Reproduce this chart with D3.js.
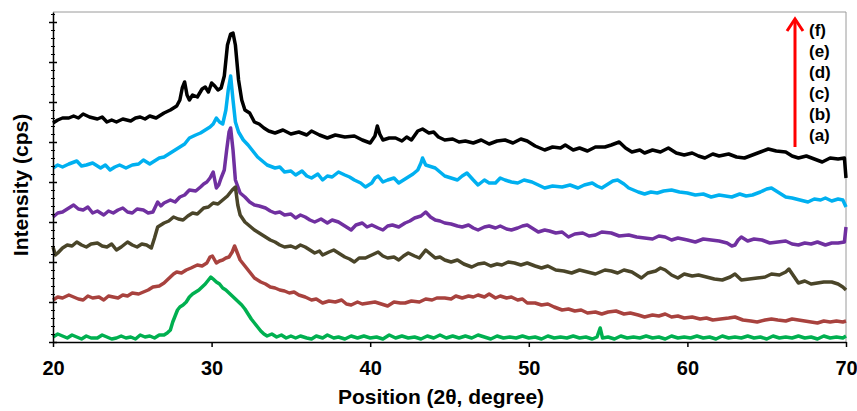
<!DOCTYPE html>
<html>
<head>
<meta charset="utf-8">
<script src="https://cdn.jsdelivr.net/npm/d3@7"></script>
<style>
  html, body { margin: 0; padding: 0; background: #fff; }
  svg { display: block; font-family: "Liberation Sans", Arial, sans-serif; }
</style>
</head>
<body>
<svg id="chart" width="857" height="411"></svg>
<script>
// ---------------- DATA (2θ in degrees, intensity in arbitrary stacked units) ----------------
const seriesLabels = ["(f)", "(e)", "(d)", "(c)", "(b)", "(a)"];
const seriesColors = ["#000000", "#00b0f0", "#7030a0", "#4a4529", "#a8423e", "#00b050"];
const xTicks = [20, 30, 40, 50, 60, 70];

const theta_f = [20.0,20.3,20.6,21.0,21.3,21.6,21.9,22.3,22.8,23.1,23.4,23.7,24.0,24.4,24.9,25.2,25.5,25.8,26.1,26.5,27.0,27.4,27.8,28.0,28.15,28.3,28.45,28.6,28.8,29.1,29.4,29.6,29.8,30.0,30.2,30.4,30.6,30.8,31.0,31.2,31.35,31.5,31.7,31.9,32.1,32.4,32.7,33.0,33.3,33.6,34.0,34.5,35.0,35.5,36.0,36.3,36.8,37.3,37.8,38.4,39.0,39.5,40.0,40.3,40.45,40.6,40.8,41.2,41.6,42.0,42.3,42.6,43.0,43.3,43.7,44.0,44.3,44.7,45.2,45.6,46.0,46.5,47.0,47.5,48.0,48.5,49.0,49.5,49.9,50.4,51.0,51.5,52.0,52.3,52.8,53.2,53.7,54.2,54.8,55.2,55.7,56.1,56.5,57.0,57.3,57.8,58.3,58.8,59.3,59.8,60.3,60.7,61.1,61.6,62.0,62.6,63.1,63.6,64.1,64.6,65.1,65.6,66.2,66.6,67.0,67.5,68.0,68.5,69.0,69.5,69.9,70.0];
const int_f = [219,222,224,224,226,224,228,225,223,225,220,222,220,223,221,224,225,223,226,224,229,232,236,242,254,260,247,242,247,245,253,255,250,259,256,252,254,266,297,308,309,297,262,242,232,229,220,218,214,211,209,212,208,210,207,211,207,204,207,205,206,202,199,206,216,208,202,204,204,201,205,202,211,213,209,210,205,202,203,200,201,199,202,198,201,202,199,203,201,196,192,195,194,197,192,194,191,195,195,197,200,194,190,192,189,192,190,194,189,187,189,186,184,188,186,188,185,184,187,190,193,191,190,186,184,186,183,180,184,183,184,164];

const theta_e = [20.0,20.3,20.6,21.0,21.5,21.8,22.1,22.5,23.0,23.3,23.6,23.9,24.2,24.6,25.0,25.4,25.7,26.1,26.4,26.7,27.0,27.4,27.7,28.0,28.3,28.6,29.0,29.3,29.6,29.9,30.1,30.3,30.5,30.7,30.9,31.05,31.2,31.35,31.5,31.7,32.0,32.3,32.6,32.9,33.2,33.5,34.0,34.3,34.6,35.0,35.3,35.7,36.0,36.3,36.7,37.0,37.3,37.6,38.0,38.4,38.7,39.0,39.4,39.7,40.1,40.3,40.5,40.8,41.1,41.5,41.8,42.1,42.4,42.7,43.0,43.2,43.3,43.5,43.7,44.1,44.4,44.7,45.1,45.5,45.8,46.1,46.5,46.8,47.2,47.5,47.9,48.2,48.5,48.9,49.3,49.7,50.2,50.6,51.0,51.5,52.1,52.6,53.1,53.5,54.0,54.3,54.6,55.0,55.3,55.6,56.0,56.3,56.6,56.9,57.3,57.7,58.1,58.5,59.0,59.5,60.0,60.5,61.0,61.5,62.0,62.4,62.8,63.3,63.7,64.1,64.6,65.0,65.3,65.6,66.0,66.2,66.6,67.1,67.6,68.0,68.4,68.7,69.1,69.5,69.8,70.0];
const int_e = [174,177,175,178,181,176,177,179,174,177,172,175,177,174,177,178,182,178,181,184,185,189,192,195,198,204,207,209,212,215,218,224,220,218,232,252,266,242,220,210,202,197,191,185,181,177,174,175,170,171,167,171,166,164,168,162,166,165,170,167,165,162,159,155,159,164,166,160,162,164,159,162,165,168,172,179,184,177,176,174,170,166,164,162,166,169,162,157,162,159,159,164,162,160,159,162,160,157,154,156,155,157,154,157,159,156,154,158,161,162,158,154,152,150,148,150,149,151,152,150,149,147,148,145,147,146,145,148,146,147,150,153,154,151,147,145,144,142,140,143,142,144,141,143,142,135];

const theta_d = [20.0,20.3,20.6,21.0,21.3,21.6,21.9,22.2,22.5,22.8,23.2,23.5,23.8,24.1,24.4,24.7,25.0,25.3,25.7,26.0,26.3,26.6,26.8,27.0,27.4,27.7,28.0,28.3,28.6,29.0,29.3,29.5,29.7,29.9,30.1,30.3,30.45,30.6,30.8,30.95,31.1,31.2,31.35,31.5,31.8,32.1,32.4,32.7,33.0,33.4,33.7,34.0,34.3,34.6,35.0,35.3,35.6,35.9,36.2,36.5,36.9,37.3,37.6,38.0,38.4,38.8,39.1,39.5,39.8,40.1,40.5,40.8,41.1,41.4,41.8,42.2,42.5,42.8,43.2,43.5,43.8,44.1,44.4,44.7,45.1,45.5,45.8,46.2,46.5,46.8,47.2,47.5,47.9,48.2,48.6,48.9,49.3,49.6,49.9,50.3,50.6,51.0,51.3,51.7,52.1,52.5,52.9,53.4,53.8,54.2,54.6,55.2,55.7,56.3,56.8,57.3,57.8,58.2,58.6,59.0,59.4,60.0,60.5,61.0,61.5,62.0,62.5,62.8,63.0,63.2,63.4,63.8,64.2,64.7,65.2,65.7,66.2,66.6,67.0,67.4,67.8,68.2,68.7,69.1,69.5,69.9,70.0];
const int_d = [125,129,130,134,137,133,132,135,129,131,127,131,129,132,134,130,129,133,132,129,130,140,136,139,142,140,145,147,152,151,155,158,160,164,170,154,157,164,172,192,210,214,192,162,149,145,140,137,136,134,131,129,130,127,128,124,127,125,122,120,123,119,122,120,116,112,117,119,115,117,114,112,116,117,115,119,121,124,126,130,125,122,121,119,118,116,115,117,114,112,115,116,114,116,113,112,114,116,117,113,110,112,111,109,110,105,108,109,106,107,110,109,106,107,105,104,103,106,105,102,104,102,100,103,102,101,99,96,97,102,105,101,103,102,99,100,101,98,97,99,98,100,97,99,99,100,115];

const theta_c = [20.0,20.15,20.3,20.6,20.9,21.2,21.5,21.8,22.1,22.4,22.8,23.1,23.4,23.7,24.0,24.3,24.7,25.0,25.3,25.6,25.9,26.2,26.4,26.6,27.0,27.3,27.6,27.9,28.2,28.5,28.8,29.1,29.5,29.8,30.1,30.4,30.7,31.0,31.3,31.5,31.65,31.8,32.1,32.4,32.7,33.0,33.4,33.7,34.0,34.3,34.6,35.0,35.3,35.6,35.9,36.2,36.5,36.8,37.0,37.4,37.7,38.0,38.4,38.7,39.0,39.3,39.7,40.1,40.5,40.8,41.1,41.5,41.8,42.1,42.4,42.8,43.1,43.5,43.8,44.1,44.4,44.7,45.1,45.5,45.9,46.4,46.8,47.2,47.6,48.0,48.3,48.7,49.1,49.5,49.9,50.4,50.8,51.2,51.7,52.2,52.7,53.2,53.7,54.2,54.8,55.2,55.6,56.0,56.5,57.1,57.5,58.0,58.3,58.6,59.0,59.4,59.8,60.3,60.7,61.2,61.7,62.2,62.7,63.0,63.4,63.9,64.4,64.9,65.3,65.8,66.2,66.4,66.7,67.0,67.4,67.8,68.2,68.6,69.1,69.5,69.8,70.0];
const int_c = [95,87,89,94,97,96,100,97,95,98,99,96,95,98,92,95,100,97,95,98,97,94,104,115,119,121,125,123,122,126,129,128,134,135,139,138,142,146,152,155,137,127,120,116,112,109,105,102,100,97,95,96,94,97,95,92,89,91,87,90,92,89,85,83,80,84,84,87,90,86,84,85,82,86,89,86,84,92,88,84,85,82,80,82,78,75,78,79,76,78,77,80,79,77,79,76,74,76,72,71,69,72,70,68,72,71,69,72,70,64,69,71,74,72,67,64,68,66,67,65,63,62,65,68,62,63,64,65,68,67,70,73,66,59,61,58,59,60,60,58,55,52];

const theta_b = [20.0,20.3,20.6,21.0,21.3,21.6,21.9,22.2,22.5,22.9,23.2,23.5,23.8,24.1,24.4,24.7,25.0,25.4,25.7,26.0,26.3,26.7,27.0,27.2,27.4,27.6,27.8,28.1,28.4,28.7,29.1,29.4,29.7,29.9,30.05,30.3,30.5,30.7,30.9,31.1,31.3,31.45,31.6,31.8,32.1,32.4,32.7,33.1,33.4,33.7,34.0,34.3,34.6,34.9,35.2,35.5,35.9,36.3,36.6,37.0,37.4,37.8,38.2,38.5,38.8,39.2,39.5,39.9,40.3,40.7,41.1,41.5,41.9,42.2,42.6,43.1,43.5,43.9,44.2,44.7,45.1,45.4,45.8,46.2,46.5,46.8,47.2,47.5,47.9,48.2,48.6,48.9,49.3,49.6,49.9,50.4,50.8,51.2,51.6,52.1,52.5,52.9,53.3,53.7,54.2,54.6,55.0,55.5,56.0,56.4,56.9,57.3,57.8,58.2,58.6,59.0,59.4,59.8,60.3,60.8,61.2,61.6,62.1,62.6,63.0,63.5,64.0,64.4,64.9,65.3,65.7,66.2,66.6,67.0,67.4,67.8,68.2,68.6,69.0,69.4,69.8,70.0];
const int_b = [42,45,44,47,45,43,42,46,44,45,42,46,45,44,47,46,49,48,50,52,55,56,59,62,65,68,70,69,72,74,77,76,79,85,86,79,81,82,84,85,90,96,90,82,76,70,64,60,58,55,54,52,51,49,50,47,45,42,43,39,41,40,42,38,37,40,38,39,40,38,36,40,39,39,41,40,43,42,44,44,43,46,44,46,45,47,45,48,44,46,44,45,42,43,39,39,37,38,35,32,33,31,32,29,30,28,30,31,28,29,27,25,27,26,28,25,26,24,25,23,24,22,23,24,25,22,21,20,22,23,22,21,23,22,21,20,19,21,20,21,20,21];

const theta_a = [20.0,20.3,20.6,20.9,21.2,21.5,21.8,22.1,22.4,22.8,23.1,23.4,23.7,24.0,24.3,24.6,24.9,25.2,25.5,25.8,26.1,26.4,26.7,27.0,27.2,27.4,27.55,27.7,27.85,28.0,28.2,28.4,28.6,28.8,29.0,29.2,29.4,29.6,29.8,29.95,30.1,30.3,30.5,30.7,30.9,31.1,31.3,31.5,31.7,31.9,32.1,32.3,32.5,32.7,32.9,33.1,33.3,33.5,33.8,34.1,34.4,34.7,35.0,35.3,35.6,36.0,36.3,36.6,37.0,37.3,37.7,38.0,38.4,38.8,39.2,39.6,40.0,40.4,40.8,41.2,41.6,42.0,42.4,42.8,43.2,43.6,44.0,44.4,44.8,45.2,45.6,46.0,46.4,46.8,47.2,47.6,48.0,48.4,48.8,49.2,49.6,50.0,50.4,50.8,51.2,51.6,52.0,52.4,52.8,53.2,53.6,54.0,54.3,54.5,54.65,55.0,55.4,55.8,56.2,56.6,57.0,57.4,57.8,58.2,58.6,59.0,59.4,59.8,60.2,60.6,61.0,61.4,61.8,62.2,62.6,63.0,63.4,63.8,64.2,64.6,65.0,65.4,65.8,66.2,66.6,67.0,67.4,67.8,68.2,68.6,69.0,69.4,69.8,70.0];
const int_a = [5,8,6,4,7,5,3,6,4,4,7,5,3,4,6,4,5,3,7,5,6,4,7,7,9,12,20,26,32,35,37,40,45,48,50,52,55,58,62,65,63,60,58,54,52,49,46,43,40,37,33,28,23,19,15,11,8,6,8,5,7,4,6,4,6,4,3,6,4,7,4,5,3,6,4,6,4,5,3,7,4,6,4,5,3,6,4,7,4,6,4,6,4,7,5,3,6,4,5,4,6,4,5,3,6,4,5,4,6,4,5,3,5,14,4,5,3,6,4,5,4,6,4,5,3,6,4,5,4,6,4,5,3,6,4,5,4,6,4,5,3,6,4,5,4,6,4,5,3,6,4,5,4,6];

const seriesX = [theta_f, theta_e, theta_d, theta_c, theta_b, theta_a];
const seriesY = [int_f, int_e, int_d, int_c, int_b, int_a];

// ---------------- CHART ----------------
const svg = d3.select("#chart");
const x = d3.scaleLinear().domain([20, 70]).range([53, 846]);
const y = d3.scaleLinear().domain([0, 330]).range([342, 12]);

// frame (top & right, thin gray)
svg.append("line").attr("x1", 53).attr("x2", 846).attr("y1", 12).attr("y2", 12)
  .attr("stroke", "#9a9a9a").attr("stroke-width", 1);
svg.append("line").attr("x1", 846).attr("x2", 846).attr("y1", 12).attr("y2", 342)
  .attr("stroke", "#9a9a9a").attr("stroke-width", 1);

// series lines
const line = d3.line().x(d => x(d[0])).y(d => y(d[1]));
seriesX.forEach((xs, i) => {
  const pts = xs.map((t, k) => [t, seriesY[i][k]]);
  svg.append("path").datum(pts)
    .attr("d", line)
    .attr("fill", "none")
    .attr("stroke", seriesColors[i])
    .attr("stroke-width", 3.5)
    .attr("stroke-linejoin", "round");
});

// y axis: minor & major crossing ticks, no labels
const yMinor = svg.append("g").attr("transform", "translate(53,0)")
  .call(d3.axisLeft(y).tickValues(d3.range(0, 331, 8)).tickSize(2).tickSizeOuter(0).tickFormat(""));
yMinor.selectAll(".tick line").attr("x1", 2).attr("stroke", "#000").attr("stroke-width", 1);
yMinor.select(".domain").remove();
const yMajor = svg.append("g").attr("transform", "translate(53,0)")
  .call(d3.axisLeft(y).tickValues(d3.range(0, 331, 40)).tickSize(4).tickSizeOuter(0).tickFormat(""));
yMajor.selectAll(".tick line").attr("x1", 4).attr("stroke", "#000").attr("stroke-width", 1.5);
yMajor.select(".domain").attr("stroke", "#000").attr("stroke-width", 1.5);

// x axis
const xAxis = svg.append("g").attr("transform", "translate(0,342)")
  .call(d3.axisBottom(x).tickValues(xTicks).tickSize(5).tickSizeOuter(0).tickFormat(d3.format("d")));
xAxis.select(".domain").attr("stroke", "#000").attr("stroke-width", 1.5);
xAxis.selectAll(".tick line").attr("stroke", "#000").attr("stroke-width", 1.5);
xAxis.selectAll(".tick text")
  .attr("y", 33).attr("dy", 0)
  .attr("font-size", 20).attr("font-weight", "bold").attr("fill", "#000")
  .attr("font-family", "Liberation Sans, Arial, sans-serif");

// axis titles
svg.append("text").attr("x", 441).attr("y", 404).attr("text-anchor", "middle")
  .attr("font-size", 21).attr("font-weight", "bold").attr("fill", "#000")
  .text("Position (2θ, degree)");
svg.append("text").attr("transform", "translate(28,185) rotate(-90)").attr("text-anchor", "middle")
  .attr("font-size", 21).attr("font-weight", "bold").attr("fill", "#000")
  .text("Intensity (cps)");

// legend arrow + labels
svg.append("line").attr("x1", 795).attr("x2", 795).attr("y1", 147).attr("y2", 20)
  .attr("stroke", "#ff0000").attr("stroke-width", 3);
svg.append("polyline").attr("points", "787,31 795,19 803,31")
  .attr("fill", "none").attr("stroke", "#ff0000").attr("stroke-width", 3)
  .attr("stroke-linejoin", "miter");
seriesLabels.forEach((lab, i) => {
  svg.append("text").attr("x", 809).attr("y", 36 + i * 21)
    .attr("font-size", 17).attr("font-weight", "bold").attr("fill", "#000")
    .text(lab);
});
</script>
</body>
</html>
